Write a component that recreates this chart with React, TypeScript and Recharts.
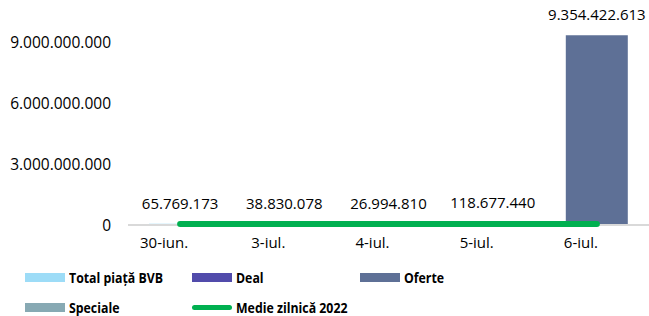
import React from 'react';
import {
  ComposedChart,
  Bar,
  Line,
  XAxis,
  YAxis,
  LabelList,
  ReferenceLine,
} from 'recharts';

// values
const days = ['30-iun.', '3-iul.', '4-iul.', '5-iul.', '6-iul.'];
const totalPiataBVB = [65769173, 38830078, 26994810, 118677440, 0];
const deal = [0, 0, 0, 0, 30000000];
const oferte = [0, 0, 0, 0, 9324422613];
const speciale = [0, 0, 0, 0, 0];
const medieZilnica2022 = [50000000, 50000000, 50000000, 50000000, 50000000];
const dayTotals = [65769173, 38830078, 26994810, 118677440, 9354422613];
const yTicks = [0, 3000000000, 6000000000, 9000000000];

const data = days.map((day, i) => ({
  day,
  total: totalPiataBVB[i],
  deal: deal[i],
  oferte: oferte[i],
  speciale: speciale[i],
  medie: medieZilnica2022[i],
  label: dayTotals[i],
}));

const fmt = (v: number | string) =>
  String(Math.round(Number(v))).replace(/\B(?=(\d{3})+(?!\d))/g, '.');

const FONT = "'Open Sans', sans-serif";

const legendRows = [
  [
    { name: 'Total piață BVB', color: '#9ddcf7', line: false, x: 25 },
    { name: 'Deal', color: '#514bab', line: false, x: 192 },
    { name: 'Oferte', color: '#5e7096', line: false, x: 360 },
  ],
  [
    { name: 'Speciale', color: '#87a9b3', line: false, x: 25 },
    { name: 'Medie zilnică 2022', color: '#00b050', line: true, x: 192 },
  ],
];

function ChartLegend() {
  return (
    <>
      {legendRows.map((row, r) =>
        row.map((item) => (
          <div
            key={item.name}
            style={{
              position: 'absolute',
              left: item.x,
              top: r === 0 ? 268 : 298,
              height: 18,
              display: 'flex',
              alignItems: 'center',
              whiteSpace: 'nowrap',
            }}
          >
            <span
              style={{
                display: 'inline-block',
                width: 40,
                height: item.line ? 5 : 9,
                borderRadius: item.line ? 3 : 0,
                background: item.color,
                marginRight: 4,
              }}
            />
            <span
              style={{
                display: 'inline-block',
                fontFamily: FONT,
                fontWeight: 700,
                fontSize: 14,
                color: '#000',
                transform: 'scaleX(0.88)',
                transformOrigin: 'left center',
              }}
            >
              {item.name}
            </span>
          </div>
        ))
      )}
    </>
  );
}

export default function App() {
  return (
    <div
      style={{
        position: 'absolute',
        left: 0,
        top: 0,
        width: 649,
        height: 316,
        background: '#fff',
      }}
    >
      <ComposedChart
        width={649}
        height={260}
        data={data}
        margin={{ top: 12, right: 0, left: 0, bottom: 0 }}
        barSize={62}
      >
        <XAxis
          dataKey="day"
          height={35}
          axisLine={false}
          tickLine={false}
          tickMargin={6}
          dx={-16}
          tick={{ fontSize: 15, fill: '#000', fontFamily: FONT }}
        />
        <YAxis
          width={128}
          domain={[0, 10500000000]}
          ticks={yTicks}
          axisLine={false}
          tickLine={false}
          tickSize={0}
          tickMargin={17}
          tickFormatter={fmt}
          tick={{ fontSize: 15.5, fill: '#000', fontFamily: FONT }}
        />
        <ReferenceLine y={0} stroke="#d9d9d9" strokeWidth={2} />
        <Bar dataKey="total" stackId="s" fill="#9ddcf7" isAnimationActive={false} />
        <Bar dataKey="deal" stackId="s" fill="#514bab" isAnimationActive={false} />
        <Bar dataKey="oferte" stackId="s" fill="#5e7096" isAnimationActive={false} />
        <Bar dataKey="speciale" stackId="s" fill="#87a9b3" isAnimationActive={false} />
        <Line
          dataKey="medie"
          stroke="#00b050"
          strokeWidth={6}
          strokeLinecap="round"
          dot={false}
          activeDot={false}
          isAnimationActive={false}
        />
        <Line
          dataKey="label"
          stroke="none"
          dot={false}
          activeDot={false}
          legendType="none"
          isAnimationActive={false}
        >
          <LabelList
            dataKey="label"
            position="top"
            offset={15}
            formatter={fmt}
            style={{ fontSize: 15, fill: '#000', fontFamily: FONT }}
          />
        </Line>
      </ComposedChart>
      <ChartLegend />
    </div>
  );
}
